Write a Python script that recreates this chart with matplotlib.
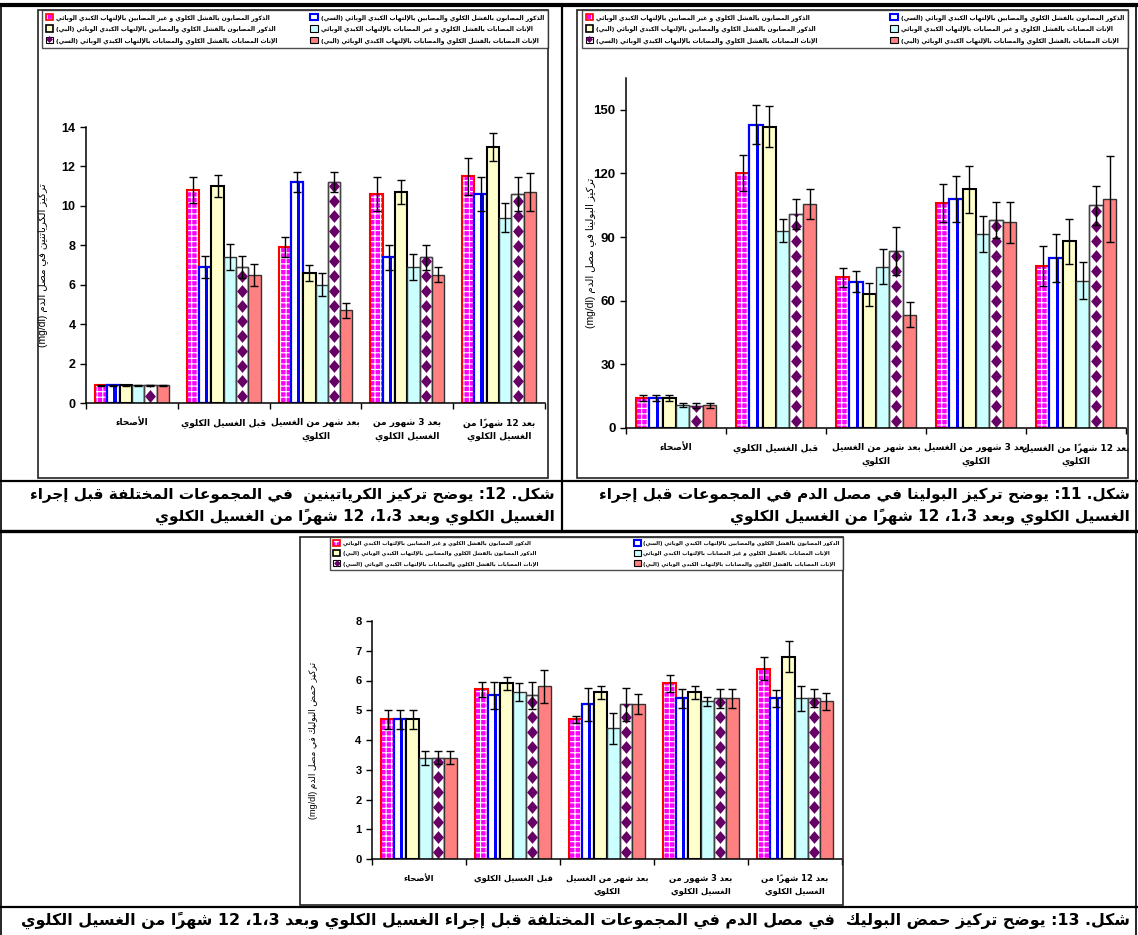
import matplotlib
matplotlib.use('Agg')
import matplotlib.pyplot as plt
from matplotlib.patches import Patch, Rectangle
from matplotlib.lines import Line2D

plt.rcParams['font.family'] = ['Liberation Sans', 'DejaVu Sans']
plt.rcParams['font.weight'] = 'bold'
plt.rcParams['hatch.linewidth'] = 0.8

# ---- data -------------------------------------------------------------
groups = ['الذكور المصابون بالفشل الكلوي و غير المصابين بالإلتهاب الكبدي الوبائي',
          'الذكور المصابون بالفشل الكلوي والمصابين بالإلتهاب الكبدي الوبائي (السي)',
          'الذكور المصابون بالفشل الكلوي والمصابين بالإلتهاب الكبدي الوبائي (البي)',
          'الإناث المصابات بالفشل الكلوي و غير المصابات بالإلتهاب الكبدي الوبائي',
          'الإناث المصابات بالفشل الكلوي والمصابات بالإلتهاب الكبدي الوبائي (السي)',
          'الإناث المصابات بالفشل الكلوي والمصابات بالإلتهاب الكبدي الوبائي (البي)']

periods = ['الأصحاء', 'قبل الغسيل الكلوي', 'بعد شهر من الغسيل\nالكلوي',
           'بعد 3 شهور من\nالغسيل الكلوي', 'بعد 12 شهراً من\nالغسيل الكلوي']
periods_wide = ['الأصحاء', 'قبل الغسيل الكلوي', 'بعد شهر من الغسيل\nالكلوي',
                'بعد 3 شهور من الغسيل\nالكلوي', 'بعد 12 شهراً من الغسيل\nالكلوي']

# creatinine (mg/dl), one list per group
creat = [[0.9, 10.8, 7.9, 10.6, 11.5],
         [0.9, 6.9, 11.2, 7.4, 10.6],
         [0.9, 11.0, 6.6, 10.7, 13.0],
         [0.9, 7.4, 6.0, 6.9, 9.4],
         [0.9, 6.9, 11.2, 7.4, 10.6],
         [0.9, 6.5, 4.7, 6.5, 10.7]]
creat_err = [[0.03, 0.65, 0.5, 0.85, 0.95],
             [0.03, 0.55, 0.5, 0.63, 0.85],
             [0.03, 0.55, 0.4, 0.6, 0.7],
             [0.03, 0.65, 0.58, 0.64, 0.73],
             [0.03, 0.55, 0.5, 0.63, 0.85],
             [0.03, 0.57, 0.37, 0.38, 0.97]]

# urea (mg/dl)
urea = [[14, 120, 71, 106, 76.5],
        [14, 143, 69, 108, 80],
        [14, 142, 63, 112.5, 88],
        [10.8, 93, 76, 91.5, 69.5],
        [10.5, 101, 83.5, 98, 105],
        [10.7, 105.5, 53.5, 97, 108]]
urea_err = [[1.5, 8.5, 4.3, 9, 9.4],
            [1.5, 9.3, 4.9, 11, 11.3],
            [1.5, 9.6, 5.3, 11.2, 10.7],
            [1.1, 5.5, 8.3, 8.3, 8.8],
            [1.1, 7, 11.2, 8.5, 9.1],
            [1.1, 7.2, 5.7, 9.6, 20.3]]

# uric acid (mg/dl)
uric = [[4.7, 5.7, 4.7, 5.9, 6.4],
        [4.7, 5.5, 5.2, 5.4, 5.4],
        [4.7, 5.9, 5.6, 5.6, 6.8],
        [3.4, 5.6, 4.4, 5.3, 5.4],
        [3.4, 5.5, 5.2, 5.4, 5.4],
        [3.4, 5.8, 5.2, 5.4, 5.3]]
uric_err = [[0.32, 0.24, 0.12, 0.27, 0.39],
            [0.32, 0.46, 0.56, 0.32, 0.29],
            [0.32, 0.23, 0.23, 0.23, 0.52],
            [0.23, 0.3, 0.52, 0.15, 0.43],
            [0.22, 0.46, 0.56, 0.33, 0.3],
            [0.22, 0.54, 0.33, 0.33, 0.29]]

# ---- arabic shaping (matplotlib lays glyphs out left to right) ---------
_letters = [('ء', 1), ('آ', 2), ('أ', 2), ('ؤ', 2), ('إ', 2), ('ئ', 4), ('ا', 2),
            ('ب', 4), ('ة', 2), ('ت', 4), ('ث', 4), ('ج', 4), ('ح', 4), ('خ', 4),
            ('د', 2), ('ذ', 2), ('ر', 2), ('ز', 2), ('س', 4), ('ش', 4), ('ص', 4),
            ('ض', 4), ('ط', 4), ('ظ', 4), ('ع', 4), ('غ', 4), ('ف', 4), ('ق', 4),
            ('ك', 4), ('ل', 4), ('م', 4), ('ن', 4), ('ه', 4), ('و', 2), ('ى', 2),
            ('ي', 4)]
FORMS = {}
_c = 0xFE80
for ch, n in _letters:
    FORMS[ch] = [chr(_c + k) for k in range(n)]
    _c += n
LAM_ALEF = {'آ': 0xFEF5, 'أ': 0xFEF7, 'إ': 0xFEF9, 'ا': 0xFEFB}
MARKS = set(chr(c) for c in range(0x064B, 0x0653))


def _forms(b):
    if isinstance(b, tuple):
        c = LAM_ALEF[b[1]]
        return [chr(c), chr(c + 1)]
    return FORMS.get(b)


def _shape(text):
    cl = []
    for c in text:
        if c in MARKS and cl:
            cl[-1][1] += c
        elif cl and cl[-1][0] == 'ل' and not cl[-1][1] and c in LAM_ALEF:
            cl[-1][0] = ('LA', c)
        else:
            cl.append([c, ''])
    out = []
    for i, (b, m) in enumerate(cl):
        f = _forms(b)
        if f is None:
            out.append(b + m)
            continue
        prev = _forms(cl[i - 1][0]) if i > 0 else None
        nxt = _forms(cl[i + 1][0]) if i + 1 < len(cl) else None
        cp = len(f) > 1 and prev is not None and len(prev) == 4
        cn = len(f) == 4 and nxt is not None and len(nxt) > 1
        idx = 3 if (cp and cn) else 1 if cp else 2 if cn else 0
        out.append(f[idx] + m)
    return out


def ar(text):
    lines = []
    for line in text.split('\n'):
        runs = []
        for s in _shape(line):
            ltr = (s[0].isascii() and s[0].isalnum()) or s[0] == '/'
            if runs and runs[-1][0] == ltr:
                runs[-1][1].append(s)
            else:
                runs.append([ltr, [s]])
        vis = ''
        for ltr, seq in reversed(runs):
            if ltr:
                vis += ''.join(seq)
            else:
                mirror = {'(': ')', ')': '('}
                vis += ''.join(mirror.get(s, s) for s in reversed(seq))
        lines.append(vis)
    return '\n'.join(lines)


# ---- layout helpers ----------------------------------------------------
W, H = 1138, 935
fig = plt.figure(figsize=(W / 100, H / 100), dpi=100)


def rect(x0, y0, x1, y1):
    return [x0 / W, 1 - y1 / H, (x1 - x0) / W, (y1 - y0) / H]


def hline(y, x0, x1, lw):
    fig.add_artist(Line2D([x0 / W, x1 / W], [1 - y / H] * 2, color='black', lw=lw))


def vline(x, y0, y1, lw):
    fig.add_artist(Line2D([x / W] * 2, [1 - y0 / H, 1 - y1 / H], color='black', lw=lw))


def frame(x0, y0, x1, y1):
    fig.add_artist(Rectangle((x0 / W, 1 - y1 / H), (x1 - x0) / W, (y1 - y0) / H,
                             fill=False, edgecolor='#222222', lw=1.2))


# table rules
hline(5, 0, W, 3)
hline(481, 0, W, 1.6)
hline(531, 0, W, 2.4)
hline(907, 0, W, 1.6)
vline(562, 5, 531, 1.6)
vline(1, 5, 935, 1.2)
vline(1136, 5, 935, 1.2)

DIAMOND = [(0, 1), (0.85, 0), (0, -1), (-0.85, 0), (0, 1)]


def chart(pos_px, ymax, ticks, means, errs, xlabels, ylabel, ylab_x,
          tick_fs, cat_fs, ylab_fs):
    ax = fig.add_axes(rect(*pos_px))
    ax.set_facecolor('none')
    ax.set_xlim(-0.5, 4.5)
    ax.set_ylim(0, ymax)
    h_px = pos_px[3] - pos_px[1]
    step = 15 * ymax / h_px          # 15 px diamond pitch in data units
    w = 0.134
    for j in range(6):
        xs = [i + (j - 2.5) * w for i in range(5)]
        vals = means[j]
        if j == 0:
            ax.bar(xs, vals, w, color='#ff00ff', hatch='+++', edgecolor='white', lw=0)
            ax.bar(xs, vals, w, fill=False, edgecolor='red', lw=1.5)
        elif j == 1:
            ax.bar(xs, vals, w, color='white', edgecolor='blue', lw=1.6)
            ax.bar([x + 0.12 * w for x in xs], vals, 0.28 * w, color='blue', lw=0)
        elif j == 2:
            ax.bar(xs, vals, w, color='#ffffcc', edgecolor='black', lw=1.5)
        elif j == 3:
            ax.bar(xs, vals, w, color='#ccffff', edgecolor='#333333', lw=1)
        elif j == 4:
            bars = ax.bar(xs, vals, w, color='white', edgecolor='#444444', lw=1)
            for b, x, v in zip(bars, xs, vals):
                ys = []
                k = 0
                while k * step < v:
                    ys.append((k + 0.5) * step)
                    k += 1
                ln, = ax.plot([x] * len(ys), ys, ls='none', marker=DIAMOND,
                              ms=9.2, mew=0, color='#660066')
                ln.set_clip_path(b)
            ax.bar(xs, vals, w, fill=False, edgecolor='#444444', lw=1)
        else:
            ax.bar(xs, vals, w, color='#ff8080', edgecolor='#333333', lw=1)
        ax.errorbar(xs, vals, yerr=errs[j], fmt='none', ecolor='black',
                    elinewidth=1, capsize=2.6, capthick=1)
    for s in ['top', 'right']:
        ax.spines[s].set_visible(False)
    for s in ['left', 'bottom']:
        ax.spines[s].set_linewidth(1.1)
    ax.set_yticks(ticks)
    ax.set_xticks([-0.5, 0.5, 1.5, 2.5, 3.5, 4.5])
    ax.set_xticklabels([])
    ax.tick_params(axis='both', direction='out', length=4, width=1,
                   labelsize=tick_fs)
    for i, lab in enumerate(xlabels):
        ax.annotate(ar(lab), xy=(i, 0), xycoords=('data', 'axes fraction'),
                    xytext=(0, -11), textcoords='offset points', ha='center',
                    va='top', fontsize=cat_fs, multialignment='center',
                    family=['DejaVu Sans'], linespacing=1.5)
    ax.set_ylabel(ar(ylabel), fontsize=ylab_fs, family=['Liberation Sans', 'DejaVu Sans'])
    ax.yaxis.set_label_coords(ylab_x, 0.5)
    return ax


def legend(box_px, fs, spacing):
    handles = [
        (Patch(facecolor='#ff00ff', hatch='+++', edgecolor='white', lw=0),
         Patch(fill=False, edgecolor='red', lw=1.2)),
        Patch(facecolor='white', edgecolor='blue', lw=1.5),
        Patch(facecolor='#ffffcc', edgecolor='black', lw=1.2),
        Patch(facecolor='#ccffff', edgecolor='black', lw=0.8),
        (Patch(facecolor='white', edgecolor='black', lw=0.8),
         Line2D([], [], ls='none', marker='D', ms=3.5, mew=0, color='#660066')),
        Patch(facecolor='#ff8080', edgecolor='black', lw=0.8),
    ]
    order = [0, 2, 4, 1, 3, 5]
    leg = fig.legend([handles[k] for k in order], [ar(groups[k]) for k in order],
                     loc='upper left', bbox_to_anchor=rect(*box_px),
                     bbox_transform=fig.transFigure, mode='expand', ncol=2,
                     frameon=True, fancybox=False, shadow=False,
                     borderaxespad=0, handlelength=1.3, handleheight=1.3,
                     handletextpad=0.5, labelspacing=spacing, borderpad=0.6,
                     columnspacing=2.0, prop={'family': ['DejaVu Sans'], 'size': fs})
    leg.get_frame().set_edgecolor('#222222')
    leg.get_frame().set_linewidth(1)
    return leg


# fig. 12 - creatinine
frame(38, 10, 548, 478)
legend((42, 10, 548, 49), 4.3, 0.75)
chart((86, 127, 545, 403), 14, range(0, 15, 2), creat, creat_err, periods,
      'تركيز الكرياتنين في مصل الدم (mg/dl)', -0.083, 9, 6.5, 7.5)

# fig. 11 - urea
frame(577, 10, 1128, 478)
legend((582, 10, 1128, 49), 4.3, 0.75)
chart((626, 78, 1126, 428), 165, range(0, 151, 30), urea, urea_err, periods_wide,
      'تركيز البولينا في مصل الدم (mg/dl)', -0.06, 9.5, 6.5, 7.5)

# fig. 13 - uric acid
frame(300, 537, 843, 905)
legend((330, 537, 843, 575), 3.8, 0.7)
chart((372, 621, 842, 859), 8, range(0, 9), uric, uric_err, periods,
      'تركيز حمض البوليك في مصل الدم (mg/dl)', -0.115, 8, 6, 6.5)

# captions
cap_fs = 11
fig.text(555 / W, 1 - 494 / H,
         ar('شكل. 12: يوضح تركيز الكرياتينين  في المجموعات المختلفة قبل إجراء'),
         ha='right', va='center', fontsize=cap_fs, family=['DejaVu Sans'])
fig.text(555 / W, 1 - 517 / H, ar('الغسيل الكلوي وبعد 3،1، 12 شهراً من الغسيل الكلوي'),
         ha='right', va='center', fontsize=cap_fs, family=['DejaVu Sans'])
fig.text(1130 / W, 1 - 494 / H,
         ar('شكل. 11: يوضح تركيز البولينا في مصل الدم في المجموعات قبل إجراء'),
         ha='right', va='center', fontsize=cap_fs, family=['DejaVu Sans'])
fig.text(1130 / W, 1 - 517 / H, ar('الغسيل الكلوي وبعد 3،1، 12 شهراً من الغسيل الكلوي'),
         ha='right', va='center', fontsize=cap_fs, family=['DejaVu Sans'])
fig.text(1130 / W, 1 - 920 / H,
         ar('شكل. 13: يوضح تركيز حمض البوليك  في مصل الدم في المجموعات المختلفة قبل إجراء الغسيل الكلوي وبعد 3،1، 12 شهراً من الغسيل الكلوي'),
         ha='right', va='center', fontsize=11.4, family=['DejaVu Sans'])

fig.savefig('out.png', dpi=100)
